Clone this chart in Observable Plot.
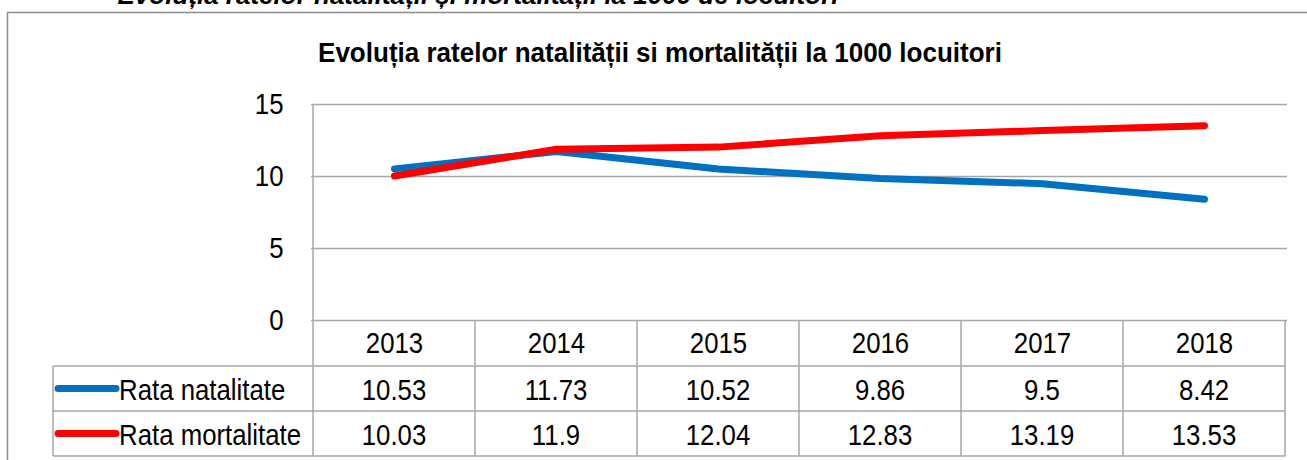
<!DOCTYPE html>
<html><head><meta charset="utf-8">
<script src="https://cdn.jsdelivr.net/npm/d3@7"></script>
<script src="https://cdn.jsdelivr.net/npm/@observablehq/plot@0.6"></script>
<style>body{margin:0;background:#fff;overflow:hidden} #chart svg{display:block}</style>
</head><body><div id="chart"></div>
<script>
const years = ["2013","2014","2015","2016","2017","2018"];
const natalitate = [10.53, 11.73, 10.52, 9.86, 9.5, 8.42];
const mortalitate = [10.03, 11.9, 12.04, 12.83, 13.19, 13.53];
const seriesNames = ["Rata natalitate", "Rata mortalitate"];
const seriesColors = ["#0070C0", "#FF0000"];
const yTicks = [0, 5, 10, 15];
const chartTitle = "Evoluția ratelor natalității si mortalității la 1000 locuitori";
const pageHeading = "Evoluția ratelor natalității și mortalității la 1000 de locuitori";

const seriesValues = [natalitate, mortalitate];
const rows = seriesNames.flatMap((s, k) => years.map((yr, i) => ({year: yr, value: seriesValues[k][i], series: s})));

const FONT = "'Liberation Sans',Arial,sans-serif";
const GRID = "#A6A6A6";
const SQUEEZE = 0.86; // narrow look of the original font

const plot = Plot.plot({
  width: 1307, height: 460,
  marginLeft: 311, marginRight: 20, marginTop: 104, marginBottom: 140,
  style: {fontFamily: FONT, background: "#fff", overflow: "visible", color: "#000"},
  x: {type: "band", domain: years, padding: 0},
  y: {domain: [0, 15]},
  color: {domain: seriesNames, range: seriesColors},
  marks: [
    Plot.gridY(yTicks, {stroke: GRID, strokeOpacity: 1, strokeWidth: 1.5}),
    Plot.axisY(yTicks, {tickSize: 0, tickPadding: 28, fontSize: 30, fill: "#000", label: null}),
    Plot.axisX({tickSize: 0, tickPadding: 11, fontSize: 30, fill: "#000", label: null}),
    Plot.line(rows, {x: "year", y: "value", z: "series", stroke: "series", strokeWidth: 7, strokeLinecap: "round", strokeLinejoin: "round"})
  ]
});
document.getElementById("chart").appendChild(plot);
// squeeze the axis labels horizontally
d3.select(plot).selectAll("text").each(function () {
  const tr = this.getAttribute("transform");
  if (tr) this.setAttribute("transform", tr + ` scale(${SQUEEZE},1)`);
});

// data table under the plot, positioned with the plot's own scales
const xs = plot.scale("x"), ys = plot.scale("y");
const bw = xs.bandwidth;
const x0 = xs.apply(years[0]), xEnd = xs.apply(years[years.length - 1]) + bw;
const yAxis = ys.apply(0), yTop = ys.apply(15);
const rowH = 45;
const rowTops = [yAxis + 46, yAxis + 46 + rowH];
const tableBottom = rowTops[1] + rowH;
const tableLeft = 53;
const svg = d3.select(plot);
const g = svg.append("g").attr("stroke", GRID).attr("stroke-width", 1.5);
g.append("line").attr("x1", x0).attr("x2", x0).attr("y1", yTop).attr("y2", tableBottom);
years.forEach(yr => {
  const xe = xs.apply(yr) + bw;
  g.append("line").attr("x1", xe).attr("x2", xe).attr("y1", yAxis).attr("y2", tableBottom);
});
g.append("line").attr("x1", tableLeft).attr("x2", tableLeft).attr("y1", rowTops[0]).attr("y2", tableBottom);
[rowTops[0], rowTops[1], tableBottom].forEach(yy => {
  g.append("line").attr("x1", tableLeft).attr("x2", xEnd).attr("y1", yy).attr("y2", yy);
});
function label(parent, x, y, txt, anchor, size, weight, sx) {
  return parent.append("text")
    .attr("transform", `translate(${x},${y}) scale(${sx},1)`)
    .attr("text-anchor", anchor).attr("font-family", FONT)
    .attr("font-size", size).attr("font-weight", weight || "normal")
    .attr("fill", "#000").text(txt);
}
seriesNames.forEach((s, k) => {
  const cy = rowTops[k] + rowH / 2;
  svg.append("line").attr("x1", 58).attr("x2", 116).attr("y1", cy).attr("y2", cy)
    .attr("stroke", seriesColors[k]).attr("stroke-width", 7).attr("stroke-linecap", "round");
  label(svg, 119, cy + 11, s, "start", 30, "normal", SQUEEZE);
  years.forEach((yr, i) => {
    label(svg, xs.apply(yr) + bw / 2, cy + 11, String(seriesValues[k][i]), "middle", 30, "normal", SQUEEZE);
  });
});
// chart title and outer frame
label(svg, 660, 62, chartTitle, "middle", 28, "bold", 0.93);
svg.append("rect").attr("x", 7.5).attr("y", 12.5).attr("width", 1320).attr("height", 480)
  .attr("fill", "none").attr("stroke", "#8C8C8C").attr("stroke-width", 1.5);
// heading of the page, cut by the top edge as in the original
svg.append("text").attr("x", 478).attr("y", 4).attr("text-anchor", "middle")
  .attr("font-family", FONT).attr("font-weight", "bold").attr("font-style", "italic")
  .attr("font-size", 26).attr("fill", "#000").text(pageHeading);
</script></body></html>
